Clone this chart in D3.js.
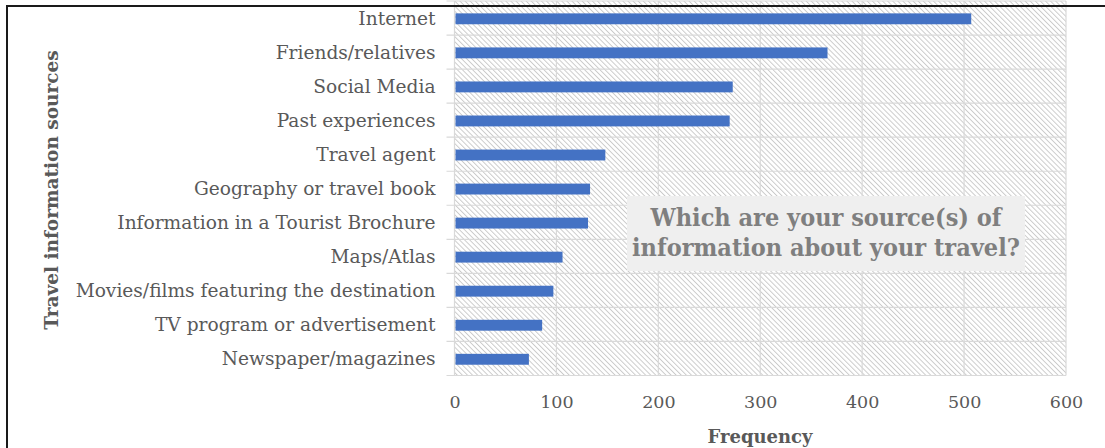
<!DOCTYPE html>
<html>
<head>
<meta charset="utf-8">
<script src="https://cdn.jsdelivr.net/npm/d3@7/dist/d3.min.js"></script>
<style>
  html, body { margin: 0; padding: 0; background: #fff; }
  svg { display: block; }
  text { font-family: 'DejaVu Serif', serif; }
  .cond { font-family: 'DejaVu Serif Condensed', 'DejaVu Serif', serif; font-stretch: condensed; }
</style>
</head>
<body>
<svg id="chart" width="1105" height="448"></svg>
<script>
// Survey: where respondents get information about their travel
const categories = [
  "Internet",
  "Friends/relatives",
  "Social Media",
  "Past experiences",
  "Travel agent",
  "Geography or travel book",
  "Information in a Tourist Brochure",
  "Maps/Atlas",
  "Movies/films featuring the destination",
  "TV program or advertisement",
  "Newspaper/magazines"
];
const frequencies = [507, 366, 273, 270, 148, 133, 131, 106, 97, 86, 73];
const xTicks = [0, 100, 200, 300, 400, 500, 600];
const titleLines = ["Which are your source(s) of", "information about your travel?"];
const xAxisTitle = "Frequency";
const yAxisTitle = "Travel information sources";

const svg = d3.select("#chart");
const plot = { left: 454.5, right: 1066, top: 1, bottom: 375.5 };

const x = d3.scaleLinear().domain([0, 600]).range([plot.left, plot.right]);
const y = d3.scaleBand().domain(categories).range([plot.top, plot.bottom])
  .paddingInner(0.68).paddingOuter(0.34);

// diagonal hatch fill for the plot area
const defs = svg.append("defs");
defs.append("pattern")
  .attr("id", "hatch")
  .attr("patternUnits", "userSpaceOnUse")
  .attr("width", 3.6).attr("height", 10)
  .attr("patternTransform", "rotate(-45)")
  .append("line")
  .attr("x1", 0.5).attr("y1", 0).attr("x2", 0.5).attr("y2", 10)
  .attr("stroke", "#c4c4c4").attr("stroke-width", 0.9);

svg.append("rect")
  .attr("x", plot.left).attr("y", plot.top)
  .attr("width", plot.right - plot.left).attr("height", plot.bottom - plot.top)
  .attr("fill", "url(#hatch)");

// vertical gridlines
svg.append("g").selectAll("line").data(xTicks).join("line")
  .attr("x1", d => x(d)).attr("x2", d => x(d))
  .attr("y1", plot.top).attr("y2", plot.bottom)
  .attr("stroke", "#d9d9d9").attr("stroke-width", 1.2);

// horizontal category separators + small ticks to the left
const bounds = categories.map(c => y(c) - y.step() * y.paddingOuter()).concat([plot.bottom]);
svg.append("g").selectAll("line").data(bounds).join("line")
  .attr("x1", plot.left - 8).attr("x2", plot.right)
  .attr("y1", d => d).attr("y2", d => d)
  .attr("stroke", "#d9d9d9").attr("stroke-width", 1.2);

// bars
svg.append("g").selectAll("rect").data(categories).join("rect")
  .attr("x", x(0) + 1)
  .attr("y", d => y(d) + 0.8)
  .attr("width", (d, i) => x(frequencies[i]) - x(0) - 1)
  .attr("height", y.bandwidth())
  .attr("fill", "#4472c4");

// category axis
const yAxis = d3.axisLeft(y).tickSize(0).tickPadding(19);
const gy = svg.append("g").attr("transform", `translate(${plot.left},0.8)`).call(yAxis);
gy.select(".domain").remove();
gy.selectAll("text")
  .attr("fill", "#595959")
  .style("font-family", "'DejaVu Serif', serif")
  .style("font-size", "18.6px");

// value axis
const xAxis = d3.axisBottom(x).tickValues(xTicks).tickSize(0).tickPadding(20).tickFormat(d3.format("d"));
const gx = svg.append("g").attr("transform", `translate(0,${plot.bottom})`).call(xAxis);
gx.select(".domain").remove();
gx.selectAll("text")
  .attr("fill", "#595959")
  .style("font-family", "'DejaVu Serif', serif")
  .style("font-size", "17.5px");

// axis titles
svg.append("text")
  .attr("x", 760).attr("y", 443)
  .attr("text-anchor", "middle")
  .attr("fill", "#595959")
  .style("font-size", "18px").style("font-weight", "bold")
  .text(xAxisTitle);

svg.append("text")
  .attr("transform", "translate(58,190) rotate(-90)")
  .attr("text-anchor", "middle")
  .attr("fill", "#595959")
  .style("font-size", "18.5px").style("font-weight", "bold")
  .text(yAxisTitle);

// in-plot title box
const box = svg.append("g");
box.append("rect")
  .attr("x", 627).attr("y", 196).attr("width", 398).attr("height", 75)
  .attr("fill", "#efefef");
box.selectAll("text").data(titleLines).join("text")
  .attr("class", "cond")
  .attr("x", 826).attr("y", (d, i) => 226 + i * 30)
  .attr("text-anchor", "middle")
  .attr("fill", "#7f7f7f")
  .style("font-size", "25px").style("font-weight", "bold")
  .text(d => d);

// outer frame
svg.append("path")
  .attr("d", "M7,448 V6 H1105")
  .attr("fill", "none")
  .attr("stroke", "#1a1a1a").attr("stroke-width", 2);
</script>
</body>
</html>
